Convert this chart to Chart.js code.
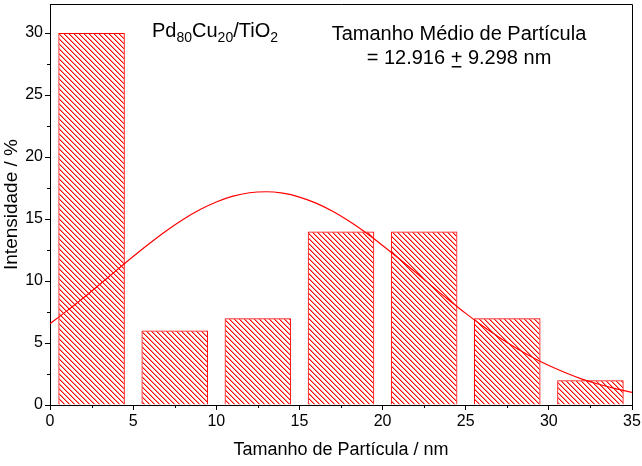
<!DOCTYPE html>
<html><head><meta charset="utf-8">
<script src="https://cdn.jsdelivr.net/npm/chart.js@4"></script>
<style>html,body{margin:0;padding:0;background:#fff}#wrap{width:642px;height:466px}</style>
</head><body><div id="wrap"><canvas id="c" width="642" height="466"></canvas></div>
<script>
// ---- data ----
const binCenters = [2.5, 7.5, 12.5, 17.5, 22.5, 27.5, 32.5];
const binValues  = [30, 6, 7, 14, 14, 7, 2];
const fitX = [0,1,2,3,4,5,6,7,8,9,10,11,12,13,14,15,16,17,18,19,20,21,22,23,24,25,26,27,28,29,30,31,32,33,34,35];
const fitY = [6.55,7.57,8.63,9.74,10.86,11.97,13.04,14.05,14.96,15.74,16.37,16.84,17.12,17.20,17.08,16.77,16.28,15.62,14.81,13.89,12.87,11.79,10.68,9.55,8.45,7.39,6.39,5.46,4.61,3.85,3.18,2.60,2.09,1.67,1.32,1.02];
const xTicks = [0,5,10,15,20,25,30,35];
const xMinor = [2.5,7.5,12.5,17.5,22.5,27.5,32.5];
const yTicks = [0,5,10,15,20,25,30];
const yMinor = [2.5,7.5,12.5,17.5,22.5,27.5];
const xTitle = 'Tamanho de Partícula / nm';
const yTitle = 'Intensidade / %';

const FONT = '"Liberation Sans", Arial, sans-serif';
const RED = '#ff0000';

// hatch pattern
function makeHatch(ctx) {
  const n = 5;
  const c = document.createElement('canvas');
  c.width = n; c.height = n;
  const g = c.getContext('2d');
  const img = g.createImageData(n, n);
  for (let y = 0; y < n; y++) for (let x = 0; x < n; x++) {
    const k = ((x - y) % n + n) % n;
    const i = (y * n + x) * 4;
    let a = 0;
    if (k === 0) a = 255; else if (k === 1) a = 110;
    img.data[i] = 255; img.data[i+1] = 0; img.data[i+2] = 0; img.data[i+3] = a;
  }
  g.putImageData(img, 0, 0);
  return ctx.createPattern(c, 'repeat');
}

const canvas = document.getElementById('c');
const hatch = makeHatch(canvas.getContext('2d'));

const extras = {
  id: 'extras',
  afterDraw(chart) {
    const {ctx, chartArea: a, scales: {x, y}} = chart;
    ctx.save();
    ctx.strokeStyle = '#000'; ctx.lineWidth = 1;
    ctx.beginPath();
    ctx.moveTo(a.left, Math.round(a.top) + 0.5);
    ctx.lineTo(Math.round(a.right) + 0.5, Math.round(a.top) + 0.5);
    ctx.lineTo(Math.round(a.right) + 0.5, a.bottom);
    ctx.stroke();
    ctx.beginPath();
    xMinor.forEach(v => {
      const px = Math.round(x.getPixelForValue(v)) + 0.5;
      ctx.moveTo(px, a.bottom); ctx.lineTo(px, a.bottom + 3);
    });
    yMinor.forEach(v => {
      const py = Math.round(y.getPixelForValue(v)) + 0.5;
      ctx.moveTo(a.left, py); ctx.lineTo(a.left - 3, py);
    });
    ctx.stroke();

    // annotations
    ctx.fillStyle = '#000';
    ctx.textBaseline = 'alphabetic';
    ctx.textAlign = 'left';
    const big = '20px ' + FONT, small = '14px ' + FONT;
    let px = 152; const base = 37;
    const parts = [['Pd', big, 0], ['80', small, 5], ['Cu', big, 0], ['20', small, 5], ['/TiO', big, 0], ['2', small, 5]];
    parts.forEach(([t, f, dy]) => {
      ctx.font = f; ctx.fillText(t, px, base + dy); px += ctx.measureText(t).width;
    });

    ctx.font = big;
    ctx.textAlign = 'center';
    ctx.fillText('Tamanho Médio de Partícula', 459, 40);
    ctx.textAlign = 'left';
    const s1 = '= 12.916 ', s2 = '+', s3 = ' 9.298 nm';
    const w = ctx.measureText(s1 + s2 + s3).width;
    let sx = 459 - w / 2;
    ctx.fillText(s1, sx, 64); sx += ctx.measureText(s1).width;
    const pw = ctx.measureText(s2).width;
    ctx.fillText(s2, sx, 64);
    ctx.fillRect(sx + 1, 66, pw - 2, 1.5);
    sx += pw;
    ctx.fillText(s3, sx, 64);
    ctx.restore();
  }
};

new Chart(canvas, {
  type: 'bar',
  data: {
    datasets: [
      {
        type: 'line',
        data: fitX.map((v, i) => ({x: v, y: fitY[i]})),
        borderColor: RED, borderWidth: 1.2, pointRadius: 0, fill: false,
        cubicInterpolationMode: 'monotone', order: 0
      },
      {
        type: 'bar',
        data: binCenters.map((v, i) => ({x: v, y: binValues[i]})),
        backgroundColor: hatch, borderColor: RED, borderWidth: 1,
        categoryPercentage: 1, barPercentage: 0.8, order: 1
      }
    ]
  },
  options: {
    responsive: false, animation: false, devicePixelRatio: 1,
    layout: {padding: {left: 0, right: 10, top: 4, bottom: 0}},
    plugins: {legend: {display: false}, tooltip: {enabled: false}},
    scales: {
      x: {
        type: 'linear', min: 0, max: 35, offset: false,
        afterBuildTicks: s => { s.ticks = xTicks.map(v => ({value: v})); },
        afterFit: s => { s.height = 61; s.paddingLeft = 0; s.paddingRight = 0; },
        ticks: {color: '#000', font: {family: FONT, size: 16}, padding: 2, maxRotation: 0, autoSkip: false},
        grid: {display: true, drawOnChartArea: false, offset: false, tickLength: 5, color: '#000'},
        border: {color: '#000', width: 1},
        title: {display: true, text: xTitle, color: '#000', font: {family: FONT, size: 18}, padding: {top: 0, bottom: 5}}
      },
      y: {
        type: 'linear', min: 0, max: 32.34,
        afterBuildTicks: s => { s.ticks = yTicks.map(v => ({value: v})); },
        afterFit: s => { s.width = 50; s.paddingTop = 0; s.paddingBottom = 0; },
        ticks: {color: '#000', font: {family: FONT, size: 16}, padding: 2},
        grid: {display: true, drawOnChartArea: false, tickLength: 5, color: '#000'},
        border: {color: '#000', width: 1},
        title: {display: true, text: yTitle, color: '#000', font: {family: FONT, size: 19}, padding: {top: 0, bottom: 0}}
      }
    }
  },
  plugins: [extras]
});
</script></body></html>
